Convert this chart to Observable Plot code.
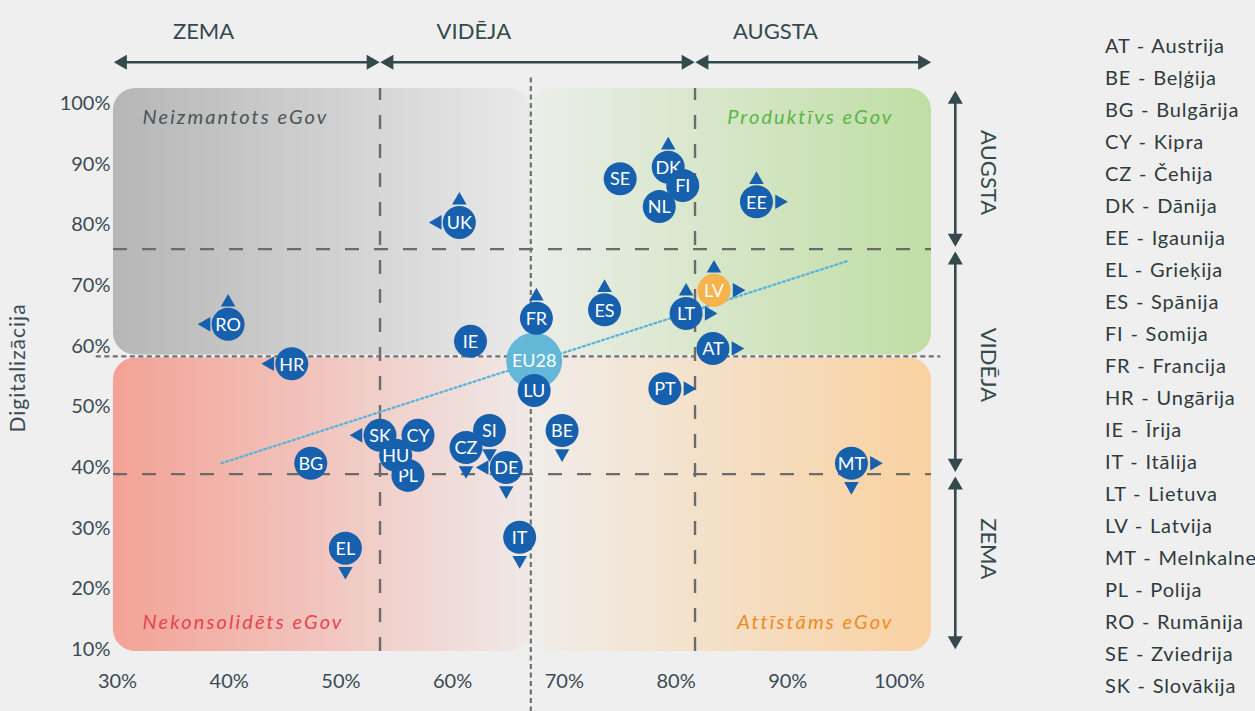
<!DOCTYPE html>
<html><head><meta charset="utf-8">
<script src="https://cdn.jsdelivr.net/npm/d3@7"></script>
<script src="https://cdn.jsdelivr.net/npm/@observablehq/plot@0.6"></script>
<style>
html,body{margin:0;padding:0;background:#efefef;overflow:hidden;width:1255px;height:711px;}
#wrap{position:relative;width:1255px;height:711px;}
#chart{position:absolute;left:0;top:0;}
#legend{position:absolute;left:1105px;top:29px;font-family:Lato,sans-serif;font-size:20px;line-height:32px;color:#2f3a3d;white-space:nowrap;letter-spacing:0.8px;word-spacing:1px}
</style></head>
<body>
<svg width="0" height="0" style="position:absolute">
<defs>
<linearGradient id="gGrey" x1="0" x2="1" y1="0" y2="0"><stop offset="0" stop-color="#b6b6b6"/><stop offset="1" stop-color="#b6b6b6" stop-opacity="0.1"/></linearGradient>
<linearGradient id="gGreen" x1="0" x2="1" y1="0" y2="0"><stop offset="0" stop-color="#bfdea4" stop-opacity="0.08"/><stop offset="1" stop-color="#bfdea4"/></linearGradient>
<linearGradient id="gRed" x1="0" x2="1" y1="0" y2="0"><stop offset="0" stop-color="#f3a295"/><stop offset="1" stop-color="#f3a295" stop-opacity="0.08"/></linearGradient>
<linearGradient id="gOrange" x1="0" x2="1" y1="0" y2="0"><stop offset="0" stop-color="#f9d1a0" stop-opacity="0.08"/><stop offset="1" stop-color="#f9d1a0"/></linearGradient>
</defs></svg>
<div id="wrap"><div id="chart"></div><div id="legend"></div></div>
<script>
// ---- data ----
const codes = ["UK","RO","HR","IE","FR","ES","SE","DK","FI","NL","EE","LT","LV","AT","PT","MT","BE","PL","SK","CY","HU","SI","CZ","DE","BG","EL","IT","LU"];
const effectiveness = [60.6,39.9,45.6,61.6,67.5,73.6,75.0,79.3,80.6,78.5,87.2,80.9,83.4,83.3,79.0,95.7,69.8,56.0,53.5,56.9,54.9,63.3,61.2,64.8,47.3,50.4,66.0,67.3];
const digitalization = [80.4,63.6,57.1,60.8,64.6,66.0,87.6,89.5,86.5,83.0,83.8,65.4,69.2,59.6,53.0,40.7,46.1,38.7,45.3,45.3,42.0,46.1,43.3,40.0,40.7,26.7,28.5,52.7];
const highlight = "LV";
const euLabel = "EU28";
const euEffectiveness = 67.3;
const euDigitalization = 57.6;
const trendUp = ["UK","RO","FR","ES","DK","EE","LV","LT"];
const trendDown = ["MT","BE","SI","CZ","DE","EL","IT"];
const trendLeft = ["UK","RO","HR","DE","SK"];
const trendRight = ["EE","LV","LT","AT","PT","MT"];
const trendX = [39.3, 95.3];
const trendY = [40.7, 74.0];
const xTicks = [30,40,50,60,70,80,90,100];
const yTicks = [10,20,30,40,50,60,70,80,90,100];
const xThresholds = [53.5, 81.7];
const yThresholds = [38.9, 76.0];
const avgX = 67.0;
const avgY = 58.3;
const zoneNames = ["ZEMA","VIDĒJA","AUGSTA"];
const quadrantNames = ["Neizmantots eGov","Produktīvs eGov","Nekonsolidēts eGov","Attīstāms eGov"];
const yLabel = "Digitalizācija";
const legendCodes = ["AT","BE","BG","CY","CZ","DK","EE","EL","ES","FI","FR","HR","IE","IT","LT","LV","MT","PL","RO","SE","SK","SI"];
const legendNames = ["Austrija","Beļģija","Bulgārija","Kipra","Čehija","Dānija","Igaunija","Grieķija","Spānija","Somija","Francija","Ungārija","Īrija","Itālija","Lietuva","Latvija","Melnkalne","Polija","Rumānija","Zviedrija","Slovākija","Slovēnija"];

// ---- layout annotations (scale coordinates) ----
const xMin = 29.64, xMax = 102.87, yMin = 9.67, yMax = 102.47;
const topLabelX = [37.7, 61.9, 88.9];
const rightLabelY = [88.6, 56.9, 26.6];
const topArrowY = 106.8, rightArrowX = 105.0, rightLabelX = 107.9;

const blue = "#1760ae";
const countries = codes.map((code, i) => ({code, x: effectiveness[i], y: digitalization[i]}));
const eu = [{code: euLabel, x: euEffectiveness, y: euDigitalization}];

const xb = [xMin, xThresholds[0], xThresholds[1], xMax];
const yb = [yMax, yThresholds[1], yThresholds[0], yMin];
const topSegs = zoneNames.map((n, i) => ({name: n, a: xb[i], b: xb[i + 1], lx: topLabelX[i]}));
const rightSegs = ["AUGSTA","VIDĒJA","ZEMA"].map((n, i) => ({name: n, a: yb[i], b: yb[i + 1], ly: rightLabelY[i]}));
const arrowColor = "#344a4d";

const countryMarks = countries.flatMap(d => [
  Plot.dot([d], {x: "x", y: "y", r: 16.5, fill: d.code === highlight ? "#f6b24c" : blue}),
  Plot.text([d], {x: "x", y: "y", text: "code", fill: "white", fontSize: 18, dy: 1})
]);

const tri = (list, opts) => Plot.dot(countries.filter(d => list.includes(d.code)),
  {x: "x", y: "y", symbol: "triangle", r: 5.4, fill: blue, ...opts});

const qText = {lineAnchor: "middle", fontSize: 20, fontStyle: "italic"};

const chart = Plot.plot({
  width: 1255, height: 711,
  marginTop: 88, marginBottom: 60, marginLeft: 113, marginRight: 324,
  x: {domain: [xMin, xMax]},
  y: {domain: [yMin, yMax]},
  style: {fontFamily: "Lato, sans-serif", background: "transparent", overflow: "visible", color: "#3b4b55"},
  marks: [
    // quadrant boxes
    Plot.rect([0], {x1: xMin, x2: avgX, y1: avgY, y2: yMax, fill: "url(#gGrey)", rx: 22, insetBottom: 1.5}),
    Plot.rect([0], {x1: avgX, x2: xMax, y1: avgY, y2: yMax, fill: "url(#gGreen)", rx: 22, insetBottom: 1.5}),
    Plot.rect([0], {x1: xMin, x2: avgX, y1: yMin, y2: avgY, fill: "url(#gRed)", rx: 22, insetTop: 1.5}),
    Plot.rect([0], {x1: avgX, x2: xMax, y1: yMin, y2: avgY, fill: "url(#gOrange)", rx: 22, insetTop: 1.5}),
    // threshold lines
    Plot.ruleX(xThresholds, {y1: yMin, y2: yMax, stroke: "#6b6b6b", strokeWidth: 2.4, strokeDasharray: "14,15"}),
    Plot.ruleY(yThresholds, {x1: xMin, x2: xMax, stroke: "#6b6b6b", strokeWidth: 2.4, strokeDasharray: "14,15"}),
    Plot.ruleX([avgX], {y1: 104.2, y2: -0.5, stroke: "#707070", strokeWidth: 2.2, strokeDasharray: "5,3.5"}),
    Plot.ruleY([avgY], {x1: 28.1, x2: 103.7, stroke: "#707070", strokeWidth: 2.2, strokeDasharray: "5,3.5"}),
    // quadrant names
    Plot.text([quadrantNames[0]], {frameAnchor: "top-left", dx: 29, dy: 29, fill: "#4b5557", ...qText}),
    Plot.text([quadrantNames[1]], {frameAnchor: "top-right", dx: -38, dy: 29, fill: "#5db546", ...qText}),
    Plot.text([quadrantNames[2]], {frameAnchor: "bottom-left", dx: 29, dy: -29, fill: "#e8434f", ...qText}),
    Plot.text([quadrantNames[3]], {frameAnchor: "bottom-right", dx: -38, dy: -29, fill: "#f08a24", ...qText}),
    // axes
    Plot.axisX({ticks: xTicks, tickFormat: d => `${d}%`, tickSize: 0, tickPadding: 22, fontSize: 20, label: null}),
    Plot.axisY({ticks: yTicks, tickFormat: d => `${d}%`, tickSize: 0, tickPadding: 3, fontSize: 20, label: null}),
    Plot.text([yLabel], {frameAnchor: "left", dx: -95, dy: -2, rotate: -90, textAnchor: "middle", lineAnchor: "middle", fontSize: 21, fill: "#3b4b55"}),
    // top zone arrows
    Plot.arrow(topSegs, {x1: "a", x2: "b", y1: topArrowY, y2: topArrowY, headLength: 0, insetStart: 6, insetEnd: 6, stroke: arrowColor, strokeWidth: 2.6}),
    Plot.dot(topSegs, {x: "a", y: topArrowY, symbol: "triangle", r: 5.6, rotate: -90, dx: 9, fill: arrowColor}),
    Plot.dot(topSegs, {x: "b", y: topArrowY, symbol: "triangle", r: 5.6, rotate: 90, dx: -9, fill: arrowColor}),
    Plot.text(topSegs, {x: "lx", y: topArrowY, dy: -30, text: "name", fontSize: 22, fill: "#344a4d"}),
    // right zone arrows
    Plot.arrow(rightSegs, {y1: "a", y2: "b", x1: rightArrowX, x2: rightArrowX, headLength: 0, insetStart: 6, insetEnd: 6, stroke: arrowColor, strokeWidth: 2.6}),
    Plot.dot(rightSegs, {y: "a", x: rightArrowX, symbol: "triangle", r: 5.6, rotate: 0, dy: 11, fill: arrowColor}),
    Plot.dot(rightSegs, {y: "b", x: rightArrowX, symbol: "triangle", r: 5.6, rotate: 180, dy: -11, fill: arrowColor}),
    Plot.text(rightSegs, {y: "ly", x: rightLabelX, text: "name", rotate: 90, fontSize: 22, fill: "#344a4d"}),
    // trend line
    Plot.line(trendX.map((x, i) => ({x, y: trendY[i]})), {x: "x", y: "y", stroke: "#5ab4dc", strokeWidth: 2.3, strokeDasharray: "2,3"}),
    // EU average
    Plot.dot(eu, {x: "x", y: "y", r: 28, fill: "#63b7d7"}),
    Plot.text(eu, {x: "x", y: "y", text: "code", fill: "white", fontSize: 18, dy: 1}),
    // countries
    ...countryMarks,
    // trend indicators
    tri(trendUp, {rotate: 0, dy: -22}),
    tri(trendDown, {rotate: 180, dy: 23}),
    tri(trendLeft, {rotate: -90, dx: -22}),
    tri(trendRight, {rotate: 90, dx: 23})
  ]
});
// letter spacing for the wide-set labels
d3.select(chart).selectAll("text")
  .filter(function () { return quadrantNames.includes(this.textContent); })
  .attr("letter-spacing", 2.1);
d3.select(chart).selectAll("text")
  .filter(function () { return this.textContent === yLabel; })
  .attr("letter-spacing", 1);
document.getElementById("chart").appendChild(chart);

const legend = document.getElementById("legend");
legendCodes.forEach((c, i) => {
  const div = document.createElement("div");
  div.textContent = `${c} - ${legendNames[i]}`;
  legend.appendChild(div);
});
</script>
</body></html>
